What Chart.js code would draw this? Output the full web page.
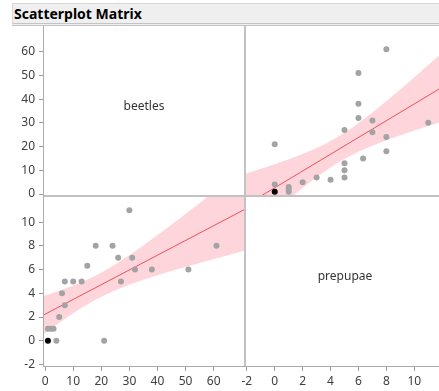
<html>
  <head>
    <script src="https://cdn.jsdelivr.net/npm/chart.js@4.4.0/dist/chart.umd.min.js"></script>
    <style>
      body { margin: 0; width: 439px; height: 391px; overflow: hidden; background: #fff; position: relative; }
      canvas { position: absolute; }
      .title {
        position: absolute; left: 12px; top: 3px; width: 440px; height: 19px;
        background: #efefef; border-top: 1px solid #d8d8d8; border-left: 1px solid #d8d8d8;
        border-bottom: 3px double #c4c4c4;
        font: bold 14px "Noto Sans"; line-height: 19px; color: #000; padding-left: 1px;
        box-sizing: content-box;
      }
      .rule { position: absolute; background: #c2c2c2; }
    </style>
  </head>
  <body>
    <div class="title">Scatterplot Matrix</div>
    <canvas id="tl" width="244" height="179" style="left:0;top:26px"></canvas>
    <canvas id="tr" width="200" height="169" style="left:245px;top:26px"></canvas>
    <canvas id="bl" width="244" height="195" style="left:0;top:196px"></canvas>
    <canvas id="br" width="220" height="195" style="left:225px;top:196px"></canvas>
    <div class="rule" style="left:43px;top:26px;width:1px;height:341px;background:#ababab"></div>
    <div class="rule" style="left:244px;top:26px;width:2px;height:340px"></div>
    <div class="rule" style="left:44px;top:195px;width:400px;height:2px"></div>
    <div class="rule" style="left:44px;top:366px;width:400px;height:1px;background:#ababab"></div>
    <script>
      // one row per observation
      const beetles = [1, 1, 2, 3, 4, 5, 6, 7, 7, 10, 13, 15, 18, 21, 24, 26, 27, 30, 31, 32, 38, 51, 61];
      const prepupae = [0, 1, 1, 1, 0, 2, 4, 5, 3, 5, 5, 6.33, 8, 0, 8, 7, 5, 11, 7, 6, 6, 6, 8];
      const selected = [0]; // highlighted row, drawn black
      const beetleTicks = [0, 10, 20, 30, 40, 50, 60];
      const prepupaeTicks = [-2, 0, 2, 4, 6, 8, 10];
      const beetleRange = [-0.4, 70.8];
      const prepupaeRange = [-2.13, 12.2];

      Chart.defaults.font.family = "Noto Sans";
      Chart.defaults.font.size = 12;
      Chart.defaults.color = "#404040";

      // least squares line with 95% confidence band of the fit
      function fitLine(xs, ys, range) {
        const n = xs.length;
        const mx = xs.reduce((a, v) => a + v, 0) / n;
        const my = ys.reduce((a, v) => a + v, 0) / n;
        let sxx = 0, sxy = 0, syy = 0;
        xs.forEach((x, i) => {
          sxx += (x - mx) * (x - mx);
          sxy += (x - mx) * (ys[i] - my);
          syy += (ys[i] - my) * (ys[i] - my);
        });
        const b = sxy / sxx;
        const a = my - b * mx;
        const s = Math.sqrt((syy - b * sxy) / (n - 2));
        const t = 2.0796; // t(0.975, df = 21)
        const upper = [], lower = [];
        const steps = 80;
        for (let k = 0; k <= steps; k++) {
          const x = range[0] + (range[1] - range[0]) * k / steps;
          const yhat = a + b * x;
          const half = t * s * Math.sqrt(1 / n + (x - mx) * (x - mx) / sxx);
          upper.push({ x, y: yhat + half });
          lower.push({ x, y: yhat - half });
        }
        return {
          line: [{ x: range[0], y: a + b * range[0] }, { x: range[1], y: a + b * range[1] }],
          upper,
          lower
        };
      }

      function axis(pos, range, ticks, show) {
        return {
          type: "linear",
          position: pos,
          display: show,
          min: range[0],
          max: range[1],
          afterBuildTicks: s => { s.ticks = ticks.map(v => ({ value: v })); },
          grid: { drawOnChartArea: false, tickLength: 5, color: "#9c9c9c" },
          border: { display: false },
          ticks: { padding: pos === "left" ? 4 : 3, maxRotation: 0, autoSkip: false },
          afterFit: s => {
            s.paddingTop = s.paddingBottom = s.paddingLeft = s.paddingRight = 0;
            if (!show) return;
            if (pos === "left") s.width = 44;
            else s.height = 25;
          }
        };
      }

      function scatterSets(xs, ys, xRange) {
        const fit = fitLine(xs, ys, xRange);
        return [
          {
            data: xs.map((x, i) => ({ x, y: ys[i] })),
            pointRadius: 3,
            pointBorderWidth: 0,
            pointBackgroundColor: xs.map((x, i) => selected.includes(i) ? "#000" : "#a3a3a3"),
            order: 0
          },
          { type: "line", data: fit.line, borderColor: "#f0505c", borderWidth: 1, pointRadius: 0, order: 1 },
          { type: "line", data: fit.upper, borderColor: "rgba(0,0,0,0)", borderWidth: 0, pointRadius: 0, fill: false, order: 2 },
          { type: "line", data: fit.lower, borderColor: "rgba(0,0,0,0)", borderWidth: 0, pointRadius: 0,
            fill: "-1", backgroundColor: "#ffd5dc", order: 3 }
        ];
      }

      function labelPlugin(text) {
        return {
          id: "panelLabel",
          afterDraw(chart) {
            if (!text) return;
            const { left, right, top, bottom } = chart.chartArea;
            const ctx = chart.ctx;
            ctx.save();
            ctx.font = '12px "Noto Sans"';
            ctx.fillStyle = "#333";
            ctx.textAlign = "center";
            ctx.textBaseline = "middle";
            ctx.fillText(text, (left + right) / 2, (top + bottom) / 2 - 4);
            ctx.restore();
          }
        };
      }

      function panel(id, x, y, datasets, label, pad) {
        return new Chart(document.getElementById(id), {
          type: "scatter",
          data: { datasets },
          options: {
            responsive: false,
            animation: false,
            devicePixelRatio: 1,
            layout: { autoPadding: false, padding: Object.assign({ left: 0, right: 0, top: 0, bottom: 0 }, pad) },
            plugins: { legend: { display: false }, tooltip: { enabled: false } },
            scales: { x, y }
          },
          plugins: [labelPlugin(label)]
        });
      }

      panel("tl", axis("bottom", beetleRange, beetleTicks, false),
        axis("left", beetleRange, beetleTicks, true), [], "beetles", { bottom: 10 });
      panel("tr", axis("bottom", prepupaeRange, prepupaeTicks, false),
        axis("left", beetleRange, beetleTicks, false),
        scatterSets(prepupae, beetles, prepupaeRange));
      panel("bl", axis("bottom", beetleRange, beetleTicks, true),
        axis("left", prepupaeRange, prepupaeTicks, true),
        scatterSets(beetles, prepupae, beetleRange));
      panel("br", axis("bottom", prepupaeRange, prepupaeTicks, true),
        axis("left", prepupaeRange, prepupaeTicks, false), [], "prepupae", { left: 20 });
    </script>
  </body>
</html>
